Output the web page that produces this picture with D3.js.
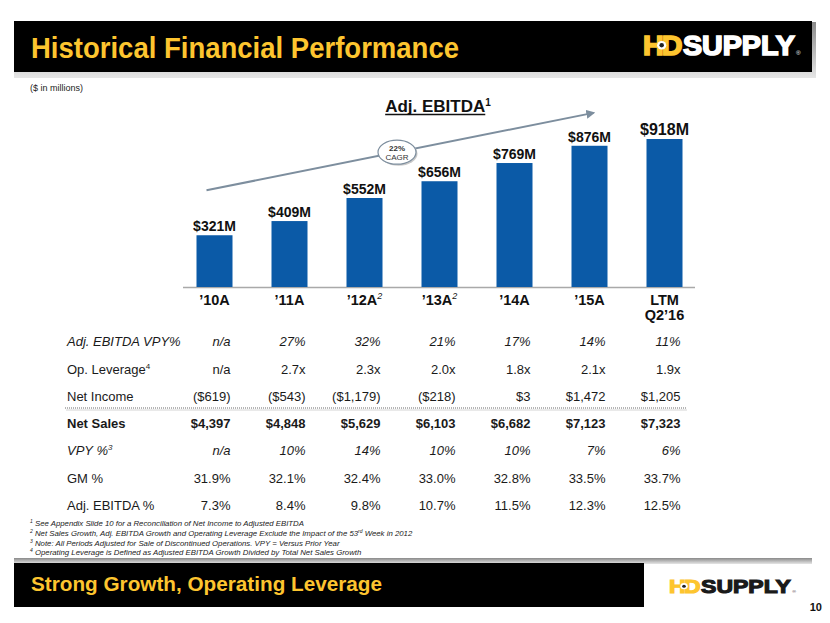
<!DOCTYPE html>
<html><head><meta charset="utf-8">
<script src="https://cdn.jsdelivr.net/npm/d3@7"></script>
<style>
body{margin:0;background:#fff}
svg{display:block}
text{font-family:"Liberation Sans",Arial,Helvetica,sans-serif}
</style>
</head><body>
<svg id="c" width="830" height="623"></svg>
<script>
// ---------- DATA ----------
const categories = ["’10A","’11A","’12A","’13A","’14A","’15A","LTM"];
const categorySup = ["","","2","2","","",""];
const categorySecondLine = ["","","","","","","Q2’16"];
const ebitda = [321,409,552,656,769,876,918];
const ebitdaLabels = ["$321M","$409M","$552M","$656M","$769M","$876M","$918M"];

const rowLabels = ["Adj. EBITDA VPY%","Op. Leverage","Net Income","Net Sales","VPY %","GM %","Adj. EBITDA %"];
const rowLabelSup = ["","4","","","3","",""];
const ebitdaVpy = ["n/a","27%","32%","21%","17%","14%","11%"];
const opLeverage = ["n/a","2.7x","2.3x","2.0x","1.8x","2.1x","1.9x"];
const netIncome = ["($619)","($543)","($1,179)","($218)","$3","$1,472","$1,205"];
const netSales = ["$4,397","$4,848","$5,629","$6,103","$6,682","$7,123","$7,323"];
const salesVpy = ["n/a","10%","14%","10%","10%","7%","6%"];
const gmPct = ["31.9%","32.1%","32.4%","33.0%","32.8%","33.5%","33.7%"];
const ebitdaPct = ["7.3%","8.4%","9.8%","10.7%","11.5%","12.3%","12.5%"];

const cagrText = ["22%","CAGR"];
const footnotes = [
  ["1"," See Appendix Slide 10 for a Reconciliation of Net Income to Adjusted EBITDA"],
  ["2"," Net Sales Growth, Adj. EBITDA Growth and Operating Leverage Exclude the Impact of the 53","rd"," Week in 2012"],
  ["3"," Note: All Periods Adjusted for Sale of Discontinued Operations. VPY = Versus Prior Year"],
  ["4"," Operating Leverage is Defined as Adjusted EBITDA Growth Divided by Total Net Sales Growth"]
];

// ---------- SETUP ----------
const YEL = "#FDC52F", BLUE = "#0B5AA7", GRAY = "#7d8e9e";
const svg = d3.select("#c");
const defs = svg.append("defs");
const g1 = defs.append("linearGradient").attr("id","shadowV").attr("x1",0).attr("y1",0).attr("x2",0).attr("y2",1);
g1.append("stop").attr("offset","0").attr("stop-color","#8a8a8a");
g1.append("stop").attr("offset","1").attr("stop-color","#e6e6e6");

// header
svg.append("rect").attr("x",14).attr("y",22).attr("width",802).attr("height",56).attr("fill","url(#shadowV)");
svg.append("rect").attr("x",14).attr("y",21).attr("width",798).attr("height",51).attr("fill","#000");
svg.append("text").attr("x",31).attr("y",58).attr("font-size",29).attr("font-weight","bold")
  .attr("fill",YEL).attr("textLength",428).attr("lengthAdjust","spacingAndGlyphs")
  .text("Historical Financial Performance");

function drawLogo(x, yBase, size, targetW, supplyColor, dotColor){
  const g = svg.append("g");
  const inner = g.append("g");
  const sw = size*0.06;
  let cx = 0;
  const h = inner.append("text").attr("x",cx).attr("y",0).attr("font-size",size).attr("font-weight","bold")
    .attr("fill",YEL).attr("stroke",YEL).attr("stroke-width",sw).text("H");
  cx += h.node().getComputedTextLength() - size*0.07;
  const ringX = cx;
  const d = inner.append("text").attr("x",cx).attr("y",0).attr("font-size",size).attr("font-weight","bold")
    .attr("fill",YEL).attr("stroke",YEL).attr("stroke-width",sw).text("D");
  cx += d.node().getComputedTextLength() + size*0.02;
  inner.append("circle").attr("cx",ringX).attr("cy",-size*0.36).attr("r",size*0.16).attr("fill","#fff");
  inner.append("circle").attr("cx",ringX).attr("cy",-size*0.36).attr("r",size*0.08).attr("fill",dotColor);
  const s = inner.append("text").attr("x",cx).attr("y",0).attr("font-size",size).attr("font-weight","bold")
    .attr("fill",supplyColor).attr("stroke",supplyColor).attr("stroke-width",sw).text("SUPPLY");
  cx += s.node().getComputedTextLength();
  inner.append("text").attr("x",cx+1).attr("y",0).attr("font-size",size*0.22).attr("fill",supplyColor).text("®");
  const k = targetW / cx;
  g.attr("transform",`translate(${x},${yBase}) scale(${k},1)`);
}
drawLogo(643, 55, 27, 152, "#fff", "#222");

svg.append("text").attr("x",30).attr("y",91).attr("font-size",9).attr("fill","#222").text("($ in millions)");

// chart title
const ct = svg.append("text").attr("x",438).attr("y",112).attr("text-anchor","middle").attr("font-size",17).attr("font-weight","bold").attr("fill","#111");
ct.append("tspan").text("Adj. EBITDA");
ct.append("tspan").attr("font-size",10).attr("dy",-6).text("1");
const ctb = ct.node().getBBox();
svg.append("line").attr("x1",ctb.x).attr("x2",ctb.x+ctb.width-6).attr("y1",114.5).attr("y2",114.5).attr("stroke","#111").attr("stroke-width",1.5);

// scales
const x = d3.scaleBand().domain(categories).range([196.5,682.5]).paddingInner(0.52).paddingOuter(0);
const y = d3.scaleLinear().domain([0, d3.max(ebitda)]).range([287, 139]);

// baseline
svg.append("line").attr("x1",183).attr("x2",695).attr("y1",y(0)+0.5).attr("y2",y(0)+0.5).attr("stroke","#a9a9a9").attr("stroke-width",1.5);

// bars
svg.selectAll("rect.bar").data(ebitda).join("rect").attr("class","bar")
  .attr("x",(d,i)=>x(categories[i])).attr("width",x.bandwidth())
  .attr("y",d=>y(d)).attr("height",d=>y(0)-y(d)).attr("fill",BLUE);

// value labels
svg.selectAll("text.val").data(ebitda).join("text").attr("class","val")
  .attr("x",(d,i)=>x(categories[i])+x.bandwidth()/2).attr("y",d=>y(d)-4)
  .attr("text-anchor","middle").attr("font-weight","bold")
  .attr("font-size",(d,i)=>i===ebitda.length-1?16:14).attr("fill","#111")
  .text((d,i)=>ebitdaLabels[i]);

// category labels
categories.forEach((c,i)=>{
  const t = svg.append("text").attr("x",x(c)+x.bandwidth()/2).attr("y",305)
    .attr("text-anchor","middle").attr("font-size",14.5).attr("font-weight","bold").attr("fill","#111");
  t.append("tspan").text(c);
  if(categorySup[i]) t.append("tspan").attr("font-size",9).attr("font-style","italic").attr("font-weight","normal").attr("dy",-6).text(categorySup[i]);
  if(categorySecondLine[i]) svg.append("text").attr("x",x(c)+x.bandwidth()/2).attr("y",320)
    .attr("text-anchor","middle").attr("font-size",14.5).attr("font-weight","bold").attr("fill","#111").text(categorySecondLine[i]);
});

// CAGR arrow (annotation positioned via scales)
const ax1 = x(categories[0]) + 10, ay1 = y(600);
const ax2 = x(categories[5]) + 22, ay2 = y(1080);
const mk = defs.append("marker").attr("id","arr").attr("viewBox","0 0 10 10").attr("refX",8).attr("refY",5)
  .attr("markerWidth",4.5).attr("markerHeight",4.5).attr("orient","auto");
mk.append("path").attr("d","M0,0 L10,5 L0,10 Z").attr("fill",GRAY);
svg.append("line").attr("x1",ax1).attr("y1",ay1).attr("x2",ax2).attr("y2",ay2)
  .attr("stroke",GRAY).attr("stroke-width",2).attr("marker-end","url(#arr)");
const ecx = 397, ecy = ay1 + (ecx-ax1)*(ay2-ay1)/(ax2-ax1);
svg.append("ellipse").attr("cx",ecx+1.5).attr("cy",ecy+1.5).attr("rx",19).attr("ry",12).attr("fill","#c8c8c8");
svg.append("ellipse").attr("cx",ecx).attr("cy",ecy).attr("rx",19).attr("ry",12).attr("fill","#fff").attr("stroke",GRAY).attr("stroke-width",1.2);
svg.append("text").attr("x",ecx).attr("y",ecy-1.5).attr("text-anchor","middle").attr("font-size",8).attr("font-weight","bold").attr("fill","#333").text(cagrText[0]);
svg.append("text").attr("x",ecx).attr("y",ecy+7.5).attr("text-anchor","middle").attr("font-size",8).attr("fill","#333").text(cagrText[1]);

// table
const rows = [
  {vals:ebitdaVpy, bold:false, italic:true},
  {vals:opLeverage, bold:false, italic:false},
  {vals:netIncome, bold:false, italic:false},
  {vals:netSales, bold:true, italic:false},
  {vals:salesVpy, bold:false, italic:true},
  {vals:gmPct, bold:false, italic:false},
  {vals:ebitdaPct, bold:false, italic:false}
];
const rowY = [346, 374, 401, 428, 455, 483, 510];
rows.forEach((r,ri)=>{
  const lt = svg.append("text").attr("x",67).attr("y",rowY[ri]).attr("font-size",13).attr("fill","#1a1a1a")
    .attr("font-weight",r.bold?"bold":"normal").attr("font-style",r.italic?"italic":"normal");
  lt.append("tspan").text(rowLabels[ri]);
  if(rowLabelSup[ri]) lt.append("tspan").attr("font-size",8).attr("dy",-5).text(rowLabelSup[ri]);
  r.vals.forEach((v,ci)=>{
    svg.append("text").attr("x",x(categories[ci])+x.bandwidth()/2+16).attr("y",rowY[ri])
      .attr("text-anchor","end").attr("font-size",13).attr("fill","#1a1a1a")
      .attr("font-weight",r.bold?"bold":"normal").attr("font-style",r.italic?"italic":"normal")
      .text(v);
  });
});
// separator
svg.append("line").attr("x1",65).attr("x2",686).attr("y1",408).attr("y2",408).attr("stroke","#b5b5b5").attr("stroke-width",2).attr("stroke-dasharray","1,1");
svg.append("line").attr("x1",66).attr("x2",687).attr("y1",410).attr("y2",410).attr("stroke","#e2e2e2").attr("stroke-width",1.5);

// footnotes
footnotes.forEach((f,i)=>{
  const t = svg.append("text").attr("x",30).attr("y",526+i*9.8).attr("font-size",7.8).attr("font-style","italic").attr("fill","#222");
  t.append("tspan").attr("font-size",5).attr("dy",-3).text(f[0]);
  t.append("tspan").attr("dy",3).text(f[1]);
  if(f[2]){ t.append("tspan").attr("font-size",5).attr("dy",-3).text(f[2]); t.append("tspan").attr("dy",3).text(f[3]); }
});

// footer
svg.append("rect").attr("x",14).attr("y",558).attr("width",798).attr("height",6).attr("fill","url(#shadowV)");
svg.append("rect").attr("x",14).attr("y",563).attr("width",630).attr("height",44).attr("fill","#000");
svg.append("text").attr("x",31).attr("y",591).attr("font-size",21).attr("font-weight","bold")
  .attr("fill",YEL).attr("textLength",351).attr("lengthAdjust","spacingAndGlyphs")
  .text("Strong Growth, Operating Leverage");
drawLogo(669, 593, 19, 122, "#1a1a1a", "#222");
svg.append("text").attr("x",822).attr("y",611).attr("text-anchor","end").attr("font-size",11).attr("font-weight","bold").attr("fill","#111").text("10");
</script>
</body></html>
